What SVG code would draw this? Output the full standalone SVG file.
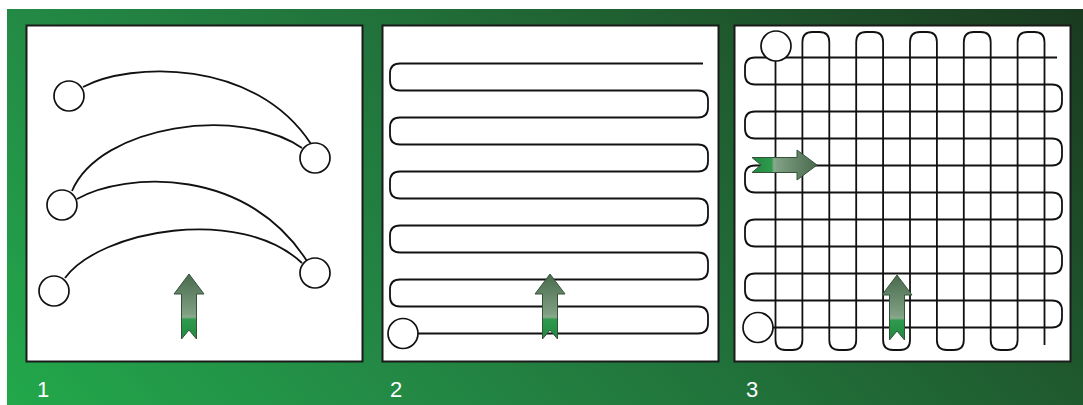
<svg xmlns="http://www.w3.org/2000/svg" xmlns:xlink="http://www.w3.org/1999/xlink" width="1083" height="405" viewBox="0 0 1083 405">
  <defs>
    <linearGradient id="bg" gradientUnits="userSpaceOnUse" x1="7" y1="405" x2="743" y2="-331">
      <stop offset="0" stop-color="#22a84b"/>
      <stop offset="0.27" stop-color="#238a45"/>
      <stop offset="0.5" stop-color="#21733b"/>
      <stop offset="0.73" stop-color="#1f5a2e"/>
      <stop offset="1" stop-color="#1a3a20"/>
    </linearGradient>
    <linearGradient id="arrowGrad" gradientUnits="userSpaceOnUse" x1="0" y1="0" x2="0" y2="65">
      <stop offset="0" stop-color="#4a6a4d"/>
      <stop offset="0.62" stop-color="#80a083"/>
      <stop offset="0.66" stop-color="#8cab8e"/>
      <stop offset="0.7" stop-color="#2f9a4d"/>
      <stop offset="1" stop-color="#1f8a40"/>
    </linearGradient>
    <path id="arrow" d="M0,0 L15,20 L7.5,20 L7.5,65 L0,56 L-7.5,65 L-7.5,20 L-15,20 Z" fill="url(#arrowGrad)" stroke="#34523a" stroke-width="1" stroke-linejoin="miter"/>
    <style>
      .panel { fill: #ffffff; stroke: #1a1a1a; stroke-width: 2; }
      .line { fill: none; stroke: #111111; stroke-width: 1.8; }
      .node { fill: #ffffff; stroke: #111111; stroke-width: 1.7; }
      .label { font-family: "Liberation Sans", Arial, sans-serif; font-size: 22px; fill: #ffffff; }
    </style>
  </defs>

  <rect x="7" y="9" width="1076" height="396" fill="url(#bg)"/>

  <!-- Panel 1 -->
  <g id="panel1">
    <rect class="panel" x="26.5" y="25.5" width="336" height="336"/>
    <g id="connectors1">
      <path class="line" d="M83,87 C130,62 255,58 311,144"/>
      <path class="line" d="M72,191 C100,125 240,105 302,148"/>
      <path class="line" d="M77,199 C125,172 250,165 310,266"/>
      <path class="line" d="M65,278 C100,230 240,205 302,263"/>
    </g>
    <g id="p1-node1"><circle class="node" cx="69" cy="96" r="15"/></g>
    <g id="p1-node2"><circle class="node" cx="315" cy="158" r="15"/></g>
    <g id="p1-node3"><circle class="node" cx="62" cy="205" r="15"/></g>
    <g id="p1-node4"><circle class="node" cx="315" cy="273" r="15"/></g>
    <g id="p1-node5"><circle class="node" cx="54" cy="291" r="15"/></g>
    <use xlink:href="#arrow" href="#arrow" transform="translate(189,274)"/>
    <text class="label" x="37" y="397">1</text>
  </g>

  <!-- Panel 2 -->
  <g id="panel2">
    <rect class="panel" x="382.5" y="25.5" width="336" height="336"/>
    <g id="connectors2">
      <path class="line" d="M418,333.5 H698 Q708,333.5 708,323.5 V316.5 Q708,306.5 698,306.5
        H400 Q390,306.5 390,296.5 V289.5 Q390,279.5 400,279.5
        H698 Q708,279.5 708,269.5 V262.5 Q708,252.5 698,252.5
        H400 Q390,252.5 390,242.5 V235.5 Q390,225.5 400,225.5
        H698 Q708,225.5 708,215.5 V208.5 Q708,198.5 698,198.5
        H400 Q390,198.5 390,188.5 V181.5 Q390,171.5 400,171.5
        H698 Q708,171.5 708,161.5 V154.5 Q708,144.5 698,144.5
        H400 Q390,144.5 390,134.5 V127.5 Q390,117.5 400,117.5
        H698 Q708,117.5 708,107.5 V100.5 Q708,90.5 698,90.5
        H400 Q390,90.5 390,80.5 V73.5 Q390,63.5 400,63.5
        H703"/>
    </g>
    <g id="p2-node1"><circle class="node" cx="403" cy="333.5" r="15"/></g>
    <use xlink:href="#arrow" href="#arrow" transform="translate(550,274)"/>
    <text class="label" x="390" y="397">2</text>
  </g>

  <!-- Panel 3 -->
  <g id="panel3">
    <rect class="panel" x="734.5" y="25.5" width="336" height="336"/>
    <g id="connectors3">
      <path class="line" d="M773,327.5 H1052 Q1062,327.5 1062,317.5 V310.5 Q1062,300.5 1052,300.5
        H755 Q745,300.5 745,290.5 V283.5 Q745,273.5 755,273.5
        H1052 Q1062,273.5 1062,263.5 V256.5 Q1062,246.5 1052,246.5
        H755 Q745,246.5 745,236.5 V229.5 Q745,219.5 755,219.5
        H1052 Q1062,219.5 1062,209.5 V202.5 Q1062,192.5 1052,192.5
        H755 Q745,192.5 745,182.5 V175.5 Q745,165.5 755,165.5
        H1052 Q1062,165.5 1062,155.5 V148.5 Q1062,138.5 1052,138.5
        H755 Q745,138.5 745,128.5 V121.5 Q745,111.5 755,111.5
        H1052 Q1062,111.5 1062,101.5 V94.5 Q1062,84.5 1052,84.5
        H755 Q745,84.5 745,74.5 V67.5 Q745,57.5 755,57.5
        H1057"/>
      <path class="line" d="M775.5,61 V340 Q775.5,350 785.5,350 H792.4 Q802.4,350 802.4,340
        V42 Q802.4,32 812.4,32 H819.3 Q829.3,32 829.3,42
        V340 Q829.3,350 839.3,350 H846.2 Q856.2,350 856.2,340
        V42 Q856.2,32 866.2,32 H873.1 Q883.1,32 883.1,42
        V340 Q883.1,350 893.1,350 H900 Q910,350 910,340
        V42 Q910,32 920,32 H926.9 Q936.9,32 936.9,42
        V340 Q936.9,350 946.9,350 H953.8 Q963.8,350 963.8,340
        V42 Q963.8,32 973.8,32 H980.7 Q990.7,32 990.7,42
        V340 Q990.7,350 1000.7,350 H1007.6 Q1017.6,350 1017.6,340
        V42 Q1017.6,32 1027.6,32 H1034.5 Q1044.5,32 1044.5,42
        V345"/>
    </g>
    <g id="p3-node1"><circle class="node" cx="776" cy="46" r="15"/></g>
    <g id="p3-node2"><circle class="node" cx="758" cy="327.5" r="15"/></g>
    <use xlink:href="#arrow" href="#arrow" transform="translate(897,275)"/>
    <use xlink:href="#arrow" href="#arrow" transform="translate(817,165) rotate(90)"/>
    <text class="label" x="746" y="397">3</text>
  </g>
</svg>
